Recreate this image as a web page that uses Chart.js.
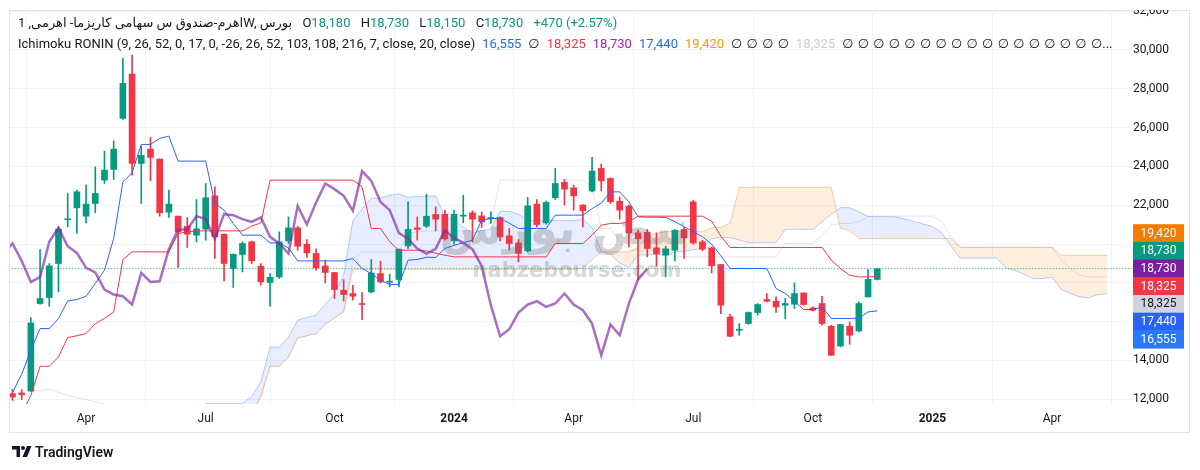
<!DOCTYPE html>
<html>
<head>
<meta charset="utf-8">
<script src="https://cdn.jsdelivr.net/npm/chart.js@4.4.1/dist/chart.umd.min.js"></script>
<style>
  body { margin: 0; background: #fff; font-family: Roboto, "DejaVu Sans", sans-serif; color: #131722; }
  #wrap { position: relative; width: 1200px; height: 470px; overflow: hidden; }
  #frame { position: absolute; left: 9px; top: 10px; width: 1179px; height: 421px; border: 1px solid #E0E3EB; }
  canvas { position: absolute; left: 0; top: 10px; }
  .legend { position: absolute; left: 18px; font-size: 13px; line-height: 18px; white-space: nowrap; }
  .legend span { margin-right: 7px; }
  .up { color: #089981; }
  #logo { position: absolute; left: 12px; top: 444px; font-size: 14px; font-weight: 600; color: #131722; }
  #logo svg { vertical-align: -1px; margin-right: 3px; }
</style>
</head>
<body>
<div id="wrap">
  <div id="frame"></div>
  <canvas id="chart" width="1200" height="460"></canvas>
  <div class="legend" style="top:14px">
    <span>اهرم-صندوق س سهامی کاریزما- اهرمی, 1W, بورس</span>
    <span>O<b class="up" style="font-weight:400">18,180</b></span>
    <span>H<b class="up" style="font-weight:400">18,730</b></span>
    <span>L<b class="up" style="font-weight:400">18,150</b></span>
    <span>C<b class="up" style="font-weight:400">18,730</b></span>
    <span class="up">+470 (+2.57%)</span>
  </div>
  <div class="legend" id="ind" style="top:35px"></div>
  <div id="logo"><svg width="20" height="12" viewBox="0 0 20 12"><path d="M0 0h8v11H4.5V3.5H0z" fill="#131722"/><circle cx="11" cy="2" r="2" fill="#131722"/><path d="M15 0h4.5l-4.5 11h-4.5z" fill="#131722"/></svg>TradingView</div>
</div>
<script>
// weekly candles, index 0 = first visible week
const opens  = [12294,12325,12428,16935,17245,18998,21250,21865,21437,22092,
                23294,23845,26476,28760,24154,24892,24377,21643,21437,20922,
                20457,20767,22487,20509,18740,19462,20112,18859,18018,18307,
                20164,20834,19993,19514,18874,18534,17621,17451,16935,17533,
                18482,18034,18173,19906,20834,20922,21525,21540,20164,21437,
                21608,21453,21298,21370,20422,20060,19648,22056,21092,22384,
                23175,22897,22005,22737,23897,23381,22211,21953,20576,20612,
                19803,19426,19684,20751,22175,20112,19803,18946,16244,15558,
                15904,16471,17141,17054,16848,16899,17482,16708,16935,15765,
                14749,15765,15522,17276,18180];
const highs  = [12516,12500,16213,19720,18998,20886,22608,22778,23051,23980,
                24789,25320,29570,29740,25047,25486,24400,22778,21440,21370,
                22298,23123,22950,20520,19480,20112,20160,18998,18482,20628,
                21401,20920,20236,19751,19168,18540,18173,17879,17502,19204,
                19117,18431,19740,22175,21401,22572,21917,21747,21747,22520,
                21711,21659,21659,21401,20803,20236,22402,22298,22211,23897,
                23330,23036,22040,24464,24119,23413,22433,22005,20715,20751,
                20576,19890,20751,20855,22263,20200,19854,18946,16383,15904,
                16502,16935,17451,17276,17193,17998,17482,16760,17312,15816,
                15853,15986,17018,18689,18730];
const lows   = [11948,11985,12400,16900,16796,17533,20886,20545,21093,21608,
                23123,23330,26424,23552,22092,23260,21437,21370,18792,19823,
                20112,20200,19256,18100,17760,18565,18998,17879,16796,18224,
                20030,19684,19307,18653,17998,17193,17069,17105,16110,17482,
                17998,17791,17791,19771,20200,20853,20679,20200,19993,21092,
                20112,20855,21061,20164,19684,19080,19596,20886,21025,22298,
                22005,21747,20886,22690,22742,22092,21283,19854,18137,19338,
                18859,18307,19132,19256,19993,19648,18513,16419,15213,15300,
                15868,16332,17018,16471,16162,16677,16848,16554,15816,14269,
                14697,14836,15471,17276,18150];
const closes = [12119,12242,15935,17193,18874,20767,21290,22690,22056,22608,
                23810,24892,28281,24154,24567,24464,21608,22056,20628,20509,
                20783,22384,20372,18998,19478,20030,19132,18049,18292,20112,
                20834,19890,19545,18771,18534,17657,17399,17312,16884,18513,
                18049,18085,19736,20752,20752,21437,21283,20267,21540,21489,
                21283,21143,21370,20370,20030,19514,21969,21009,22144,23123,
                22830,22484,21711,23758,23258,22175,21747,20576,20267,19771,
                19493,19751,20715,20318,20060,19736,18874,16848,15249,15610,
                16471,16884,17054,16760,16935,17451,16884,16590,15904,14269,
                15853,15300,16935,18180,18730];

// Ichimoku lines
const tenkan = [12345,13290,14527,15646,15646,16162,17069,17141,17312,17967,
                18653,20287,23206,23670,25134,25134,25444,25563,24273,24273,
                24273,24273,22092,21747,21060,20457,20457,20457,20060,20060,
                19800,19132,19132,19132,19132,19132,19132,19256,18740,18482,
                18137,17915,17915,19168,19204,19323,19307,19771,19930,20070,
                20200,21231,21318,21318,21076,20803,20803,20803,20803,21489,
                21489,21489,21489,21824,22108,22690,22690,22175,21401,21386,
                21386,21370,21153,20896,20628,20380,19993,19400,18740,18740,
                18740,18740,18740,17709,17451,17054,16626,16626,16760,16162,
                16162,16162,16180,16502,16555];
const kijun  = [11250,11250,12206,13702,13702,14181,15182,15275,15388,15893,
                16177,16502,19204,19596,19596,19596,19596,19596,20545,20628,
                20679,20679,20679,20679,20679,20679,20922,21092,23294,23294,
                23294,23294,23294,23294,23294,23294,23294,23294,22948,20803,
                20803,20122,19684,19684,19684,19648,19529,19426,19338,19338,
                19338,19338,19338,19338,19338,19338,19338,19338,19338,20030,
                20030,20030,20030,20457,20973,21061,21061,21143,21437,21437,
                21437,21437,21437,21437,21437,21437,21179,20406,19823,19823,
                19823,19823,19823,19823,19823,19823,19823,19823,19823,19168,
                18740,18395,18307,18307,18325];
// cloud edges, first value sits at week 21
const cloudStart = 21;
const spanA = [11780,11780,11780,11780,11790,12150,12900,14690,14690,15200,
               16080,16220,16340,16900,17420,18400,21220,21800,22365,22365,
               22520,22580,22410,22450,22476,22476,21400,21210,20870,20570,
               20690,20775,21680,21680,21550,21210,21210,21210,21210,21210,
               21210,21275,20845,19640,19470,19020,18800,19426,19444,19485,
               19418,19600,19634,19704,19769,20285,20328,20328,20207,20070,
               20070,20070,20070,20760,20760,20760,20760,21140,21540,21876,
               21876,21659,21419,21411,21411,21403,21295,21166,21032,20908,
               20586,19903,19281,19281,19281,19281,19281,18766,18637,18438,
               18224,18224,18291,17665,17451,17278,17243,17404,17440];
const spanB = [null,null,null,null,11250,11250,12100,13700,13700,14181,
               15150,15275,15388,15850,16200,16502,18700,18700,18700,18700,
               18700,18700,18700,18700,18700,18700,18700,18700,18700,18700,
               18700,18700,18700,18700,18700,18700,18700,18700,18700,18700,
               18700,18750,19170,19600,19600,19600,19600,19840,20350,20560,
               20640,20640,20640,20640,20640,20844,20862,21070,22925,22925,
               22925,22925,22925,22925,22925,22925,22925,22925,22925,20800,
               20700,20287,20287,20287,20287,20287,20287,20287,20287,20287,
               20287,20287,19839,19839,19839,19839,19839,19839,19839,19839,
               19839,19839,19839,19420,19420,19420,19420,19420,19420];
// faint grey line at the bottom left (weeks 0..11)
const greyEarly = [11860,12130,12410,12464,12516,12360,12190,12077,11985,11880,11740,11600];
const shift = 25;

const monthTicks  = [8, 21, 35, 48, 61, 74, 87, 100, 113];
const monthLabels = ['Apr', 'Jul', 'Oct', '2024', 'Apr', 'Jul', 'Oct', '2025', 'Apr'];
const priceTicks  = [12000, 14000, 16000, 18000, 20000, 22000, 24000, 26000, 28000, 30000, 32000];

const tagValues = [19420, 18730, 18730, 18325, 18325, 17440, 16555];
const tagColors = ['#F57C00', '#089981', '#7B1FA2', '#F23645', '#D1D4DC', '#2962FF', '#2979FF'];

// legend of the indicator
const indValues = [['16,555', '#2962FF'], ['∅', '#131722'], ['18,325', '#F23645'], ['18,730', '#9C27B0'],
                   ['17,440', '#2962FF'], ['19,420', '#FF9800'], ['∅ ∅ ∅ ∅', '#131722'], ['18,325', '#C9CCD4'],
                   ['∅ ∅ ∅ ∅ ∅ ∅ ∅ ∅ ∅ ∅ ∅ ∅ ∅ ∅ ∅ ∅ ∅...', '#131722']];
let ind = '<span>Ichimoku RONIN (9, 26, 52, 0, 17, 0, -26, 26, 52, 103, 108, 216, 7, close, 20, close)</span>';
indValues.forEach(([t, c]) => { ind += `<span style="color:${c};word-spacing:1px">${t}</span>`; });
document.getElementById('ind').innerHTML = ind;

const up = '#089981', down = '#F23645';
const candleColor = opens.map((o, i) => closes[i] >= o ? up : down);
const lastClose = closes[closes.length - 1];

const priceTags = {
    id: 'priceTags',
    afterDraw(chart) {
        const { ctx, chartArea, scales: { y } } = chart;
        const h = 17.7;
        const ideal = tagValues.map(v => y.getPixelForValue(v));
        const mid = ideal.reduce((a, b) => a + b, 0) / ideal.length + 7.5;
        const top = mid - h * tagValues.length / 2;
        ctx.save();
        ctx.font = '12px Roboto';
        ctx.textAlign = 'center';
        ctx.textBaseline = 'middle';
        tagValues.forEach((v, k) => {
            const yy = top + k * h;
            ctx.fillStyle = tagColors[k];
            ctx.fillRect(chartArea.right, yy, 51, h + 0.5);
            ctx.fillStyle = k === 4 ? '#131722' : '#fff';
            ctx.fillText(v.toLocaleString('en-US'), chartArea.right + 25.5, yy + h / 2 + 0.5);
        });
        ctx.restore();
    }
};

const watermark = {
    id: 'watermark',
    afterDatasetsDraw(chart) {
        const { ctx } = chart;
        ctx.save();
        ctx.fillStyle = 'rgba(100,100,100,0.28)';
        ctx.textAlign = 'center';
        ctx.textBaseline = 'middle';
        ctx.font = 'bold 46px "DejaVu Sans"';
        ctx.fillText('نبض بورس', 565, 222);
        ctx.font = 'bold 21px "DejaVu Sans"';
        ctx.fillStyle = 'rgba(100,100,100,0.25)';
        ctx.fillText('nabzebourse.com', 577, 262);
        ctx.restore();
    }
};

const line = (data, color, width, order, extra) => Object.assign({
    type: 'line', data, borderColor: color, borderWidth: width, pointRadius: 0,
    tension: 0, fill: false, order, spanGaps: false
}, extra || {});

new Chart(document.getElementById('chart'), {
    type: 'bar',
    data: {
        datasets: [
            line(spanA.map((v, k) => ({ x: k + cloudStart, y: v })), 'rgba(41,98,255,0.32)', 1, 20,
                 { fill: { target: '+1', above: 'rgba(41,98,255,0.11)', below: 'rgba(245,124,0,0.13)' } }),
            line(spanB.map((v, k) => ({ x: k + cloudStart, y: v })), 'rgba(245,124,0,0.35)', 1, 19),
            line(kijun.map((v, i) => ({ x: i + shift, y: v })), 'rgba(160,164,175,0.3)', 1, 18),
            line(greyEarly.map((v, i) => ({ x: i, y: v })), 'rgba(160,164,175,0.3)', 1, 18),
            {
                type: 'bar', data: highs.map((h, i) => ({ x: i, y: [lows[i], h] })),
                backgroundColor: candleColor, barThickness: 1, grouped: false, order: 11
            },
            {
                type: 'bar', data: opens.map((o, i) => ({ x: i, y: [o, closes[i]] })),
                backgroundColor: candleColor, barThickness: 6, minBarLength: 1, grouped: false, order: 10
            },
            line([{ x: -1, y: lastClose }, { x: 130, y: lastClose }], up, 1, 9, { borderDash: [1, 2] }),
            line(tenkan.map((v, i) => ({ x: i, y: v })), '#2962FF', 1, 3),
            line(kijun.map((v, i) => ({ x: i, y: v })), '#F23645', 1, 2),
            line(closes.map((v, i) => ({ x: i - shift, y: v })), 'rgba(128,40,165,0.68)', 2.5, 1)
        ]
    },
    options: {
        responsive: false,
        animation: false,
        events: [],
        layout: { padding: { left: 10, right: 11, top: 0, bottom: 38 } },
        plugins: { legend: { display: false }, tooltip: { enabled: false } },
        scales: {
            x: {
                type: 'linear', min: -0.27, max: 121.8, offset: false,
                afterBuildTicks: s => { s.ticks = monthTicks.map(v => ({ value: v })); },
                afterFit: s => { s.height = 28; s.paddingLeft = 0; s.paddingRight = 0; },
                ticks: {
                    autoSkip: false, maxRotation: 0, padding: 8, color: '#131722',
                    font: c => ({ size: 12, family: 'Roboto', weight: /^\d/.test(monthLabels[c.index]) ? 'bold' : 'normal' }),
                    callback: (v, i) => monthLabels[i]
                },
                grid: { color: '#F0F3FA', drawTicks: false },
                border: { display: false }
            },
            y: {
                position: 'right', min: 11758, max: 32061,
                afterBuildTicks: s => { s.ticks = priceTicks.map(v => ({ value: v })); },
                afterFit: s => { s.width = 56; s.paddingTop = 0; s.paddingBottom = 0; },
                ticks: {
                    crossAlign: 'center', color: '#131722', padding: 0,
                    font: { size: 12, family: 'Roboto' },
                    callback: v => v.toLocaleString('en-US')
                },
                grid: { color: '#F0F3FA', drawTicks: false },
                border: { display: false }
            }
        }
    },
    plugins: [watermark, priceTags]
});
</script>
</body>
</html>
